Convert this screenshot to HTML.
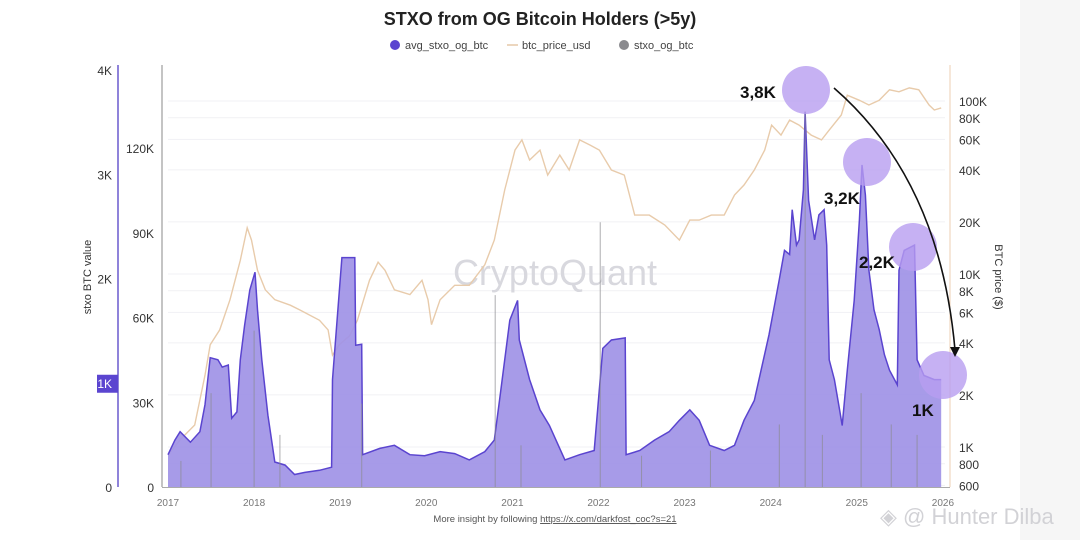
<!DOCTYPE html>
<html><head><meta charset="utf-8"><style>
html,body{margin:0;padding:0;background:#fff;}
body{width:1080px;height:540px;overflow:hidden;font-family:"Liberation Sans",sans-serif;}
svg text{font-family:"Liberation Sans",sans-serif;}
</style></head><body>
<svg id="chart" width="1080" height="540" viewBox="0 0 1080 540" xmlns="http://www.w3.org/2000/svg">
<rect x="1020" y="0" width="60" height="540" fill="#f6f6f6"/>
<text x="540" y="25" text-anchor="middle" font-size="18" font-weight="bold" fill="#222">STXO from OG Bitcoin Holders (&gt;5y)</text>
<g>
<circle cx="395" cy="45" r="5" fill="#5b45d0"/>
<text x="405" y="49" font-size="11" fill="#444">avg_stxo_og_btc</text>
<line x1="507" y1="45" x2="518" y2="45" stroke="#e6c9a8" stroke-width="1.5"/>
<text x="522" y="49" font-size="11" fill="#444">btc_price_usd</text>
<circle cx="624" cy="45" r="5" fill="#8a8a8e"/>
<text x="634" y="49" font-size="11" fill="#444">stxo_og_btc</text>
</g>
<g id="grid"></g>
<text x="555" y="285" text-anchor="middle" font-size="36" fill="#d8d8de">CryptoQuant</text>
<g id="marks"></g>
<g id="axes"></g>
<g id="annot"></g>
<text x="555" y="522" text-anchor="middle" font-size="9.5" fill="#555">More insight by following <tspan text-decoration="underline">https://x.com/darkfost_coc?s=21</tspan></text>
<text x="880" y="524" font-size="22" fill="#d2d2d6">◈ @ Hunter Dilba</text>
</svg>
<script>
const years=["2017","2018","2019","2020","2021","2022","2023","2024","2025","2026"];
const leftTicks=[0,1,2,3,4];
const leftTickLabels=["0","1K","2K","3K","4K"];
const midTicks=[0,30,60,90,120];
const midTickLabels=["0","30K","60K","90K","120K"];
const priceTicks=[600,800,1000,2000,4000,6000,8000,10000,20000,40000,60000,80000,100000];
const priceTickLabels=["600","800","1K","2K","4K","6K","8K","10K","20K","40K","60K","80K","100K"];
const avgT=[0,.08,.14,.26,.37,.43,.49,.58,.63,.70,.74,.80,.84,.89,.95,1.01,1.04,1.09,1.16,1.24,1.36,1.47,1.59,1.76,1.90,1.91,2.02,2.17,2.18,2.25,2.26,2.46,2.63,2.81,2.98,3.16,3.33,3.50,3.68,3.79,3.85,3.97,4.06,4.08,4.20,4.32,4.43,4.61,4.78,4.95,5.05,5.15,5.31,5.32,5.48,5.65,5.82,5.94,6.06,6.17,6.29,6.46,6.58,6.69,6.81,6.98,7.10,7.16,7.22,7.25,7.30,7.33,7.38,7.40,7.44,7.51,7.56,7.62,7.65,7.68,7.74,7.80,7.83,7.89,7.97,8.03,8.06,8.10,8.14,8.20,8.26,8.32,8.38,8.47,8.49,8.55,8.67,8.70,8.78,8.90,8.98];
const avgV=[.31,.45,.53,.43,.53,.79,1.24,1.22,1.15,1.17,.66,.72,1.22,1.55,1.89,2.06,1.70,1.22,.69,.24,.21,.12,.14,.16,.19,1.03,2.2,2.2,1.36,1.37,.31,.37,.40,.31,.30,.34,.32,.26,.34,.45,.83,1.6,1.79,1.41,1.03,.74,.59,.26,.31,.35,1.33,1.41,1.43,.31,.35,.45,.53,.64,.74,.64,.40,.35,.40,.64,.83,1.46,1.99,2.27,2.23,2.66,2.32,2.37,2.85,3.6,2.75,2.37,2.61,2.66,2.32,1.22,1.03,.74,.59,1.12,1.79,2.56,3.09,2.8,2.08,1.7,1.51,1.27,1.12,.98,2.08,2.27,2.32,1.22,1.07,1.03,1.03];
const priceT=[0,.14,.31,.43,.49,.60,.72,.84,.92,.97,1.04,1.13,1.24,1.42,1.53,1.76,1.86,1.91,1.99,2.11,2.20,2.34,2.44,2.52,2.63,2.81,2.95,3.02,3.06,3.16,3.33,3.50,3.68,3.79,3.91,4.03,4.11,4.20,4.32,4.41,4.55,4.66,4.78,4.90,5.01,5.15,5.30,5.42,5.59,5.77,5.94,6.06,6.17,6.31,6.46,6.58,6.69,6.81,6.93,7.01,7.12,7.22,7.33,7.47,7.59,7.68,7.82,7.89,8.03,8.14,8.26,8.38,8.49,8.61,8.72,8.84,8.90,8.98];
const priceV=[900,1100,1340,2600,3900,4750,7100,12000,18500,15700,10500,8100,7100,6600,6200,5400,4750,3400,3900,4400,5400,9200,11700,10500,8100,7600,9200,7100,5100,7100,8600,8600,11300,15700,30600,52000,59600,45600,52000,37300,48700,39900,59600,55700,52000,39900,37300,21900,21900,19200,15700,20500,20500,21900,21900,28600,32700,39900,52000,72600,63500,77600,72600,63500,59600,67900,83000,108000,101000,94800,101000,116000,113000,119000,116000,94800,88700,91200];
const spikeT=[.15,.5,1.0,1.3,2.25,3.8,4.1,5.02,5.5,6.3,7.1,7.4,7.6,8.05,8.4,8.7];
const spikeV=[.25,.9,1.5,.5,.8,1.84,.4,2.54,.3,.35,.6,3.6,.5,.9,.6,.5];

const NS="http://www.w3.org/2000/svg";
const x0=168,pxYear=86.1,yBase=487,pxK=104.25;
const X=t=>x0+t*pxYear;
const Y=v=>yBase-v*pxK;
const YM=v=>yBase-v*(339/120);
const YP=p=>101-(Math.log10(p)-5)*173;
function mk(tag,attrs,parent){const e=document.createElementNS(NS,tag);for(const k in attrs)e.setAttribute(k,attrs[k]);parent.appendChild(e);return e;}
const grid=document.getElementById('grid'),marks=document.getElementById('marks'),axes=document.getElementById('axes'),annot=document.getElementById('annot');

priceTicks.forEach((p,i)=>{const l=mk('line',{x1:168,x2:945,y1:YP(p),y2:YP(p),stroke:'#f1f1f4','stroke-width':1},grid);

});

// price line
let pd=priceT.map((t,i)=>(i?'L':'M')+X(t).toFixed(1)+','+YP(priceV[i]).toFixed(1)).join(' ');
const pl=mk('path',{d:pd,fill:'none',stroke:'#e8cbab','stroke-width':1.4},marks);



// avg area
let ad='M'+X(avgT[0])+','+yBase+' '+avgT.map((t,i)=>'L'+X(t).toFixed(1)+','+Y(avgV[i]).toFixed(1)).join(' ')+' L'+X(avgT[avgT.length-1])+','+yBase+'Z';
const ar=mk('path',{d:ad,fill:'#9f93e6','fill-opacity':0.92},marks);


let ld=avgT.map((t,i)=>(i?'L':'M')+X(t).toFixed(1)+','+Y(avgV[i]).toFixed(1)).join(' ');
const al=mk('path',{d:ld,fill:'none',stroke:'#5a44cf','stroke-width':1.5},marks);



spikeT.forEach((t,i)=>{const s=mk('line',{x1:X(t),x2:X(t),y1:yBase,y2:Y(spikeV[i]),stroke:'#8a8a8e','stroke-width':1,'stroke-opacity':0.7},marks);

});

// axes
const aL=mk('line',{x1:118,x2:118,y1:65,y2:487,stroke:'#6a5acd','stroke-width':1.5},axes);


const aM=mk('line',{x1:162,x2:162,y1:65,y2:487,stroke:'#888','stroke-width':1},axes);


const aR=mk('line',{x1:950,x2:950,y1:65,y2:487,stroke:'#eccfb3','stroke-width':1},axes);


const aB=mk('line',{x1:162,x2:950,y1:487.5,y2:487.5,stroke:'#aaa','stroke-width':1},axes);



leftTicks.forEach((v,i)=>{
 if(leftTickLabels[i]==='1K'){const r=mk('rect',{x:97,y:Y(v)-8,width:21,height:18,fill:'#5b45d0'},axes);
 
 }
 const t=mk('text',{x:112,y:Y(v)+5,'text-anchor':'end','font-size':12,fill:leftTickLabels[i]==='1K'?'#fff':'#333'},axes);t.textContent=leftTickLabels[i];
 
 });
midTicks.forEach((v,i)=>{const t=mk('text',{x:154,y:YM(v)+5,'text-anchor':'end','font-size':12,fill:'#333'},axes);t.textContent=midTickLabels[i];
 
 });
priceTicks.forEach((p,i)=>{const t=mk('text',{x:959,y:YP(p)+5,'font-size':12,fill:'#333'},axes);t.textContent=priceTickLabels[i];
 
 });
years.forEach((y,i)=>{const t=mk('text',{x:X(i),y:506,'text-anchor':'middle','font-size':10,fill:'#777'},axes);t.textContent=y;
 
 });
const yl=mk('text',{x:0,y:0,'text-anchor':'middle','font-size':11,fill:'#333',transform:'translate(91,277) rotate(-90)'},axes);yl.textContent='stxo BTC value';


const yr=mk('text',{x:0,y:0,'text-anchor':'middle','font-size':11,fill:'#333',transform:'translate(995,277) rotate(90)'},axes);yr.textContent='BTC price ($)';



// annotations
const circ=[[806,90],[867,162],[913,247],[943,375]];
circ.forEach(c=>{const e=mk('circle',{cx:c[0],cy:c[1],r:24,fill:'#b89ef0','fill-opacity':0.8},annot);
 
 });
const labs=[["3,8K",740,98],["3,2K",824,204],["2,2K",859,268],["1K",912,416]];
labs.forEach(l=>{const t=mk('text',{x:l[1],y:l[2],'font-size':17,'font-weight':'bold',fill:'#111'},annot);t.textContent=l[0];
 
 });
const arr=mk('path',{d:'M834,88 Q940,180 955,350',fill:'none',stroke:'#111','stroke-width':1.6},annot);


const ah=mk('path',{d:'M950,347 L960,347 L955,357 Z',fill:'#111'},annot);


</script>
</body></html>
